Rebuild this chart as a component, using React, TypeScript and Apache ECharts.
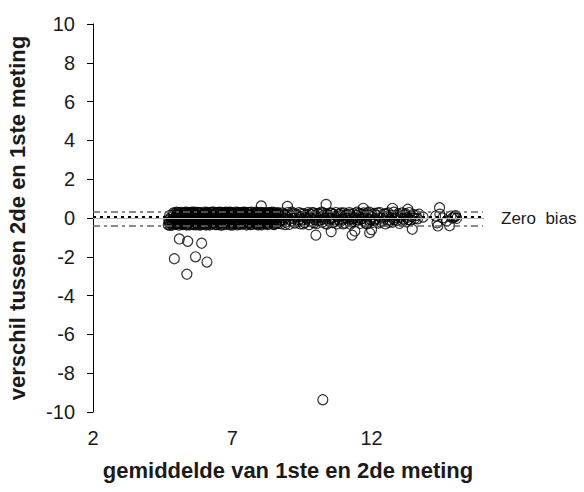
import React, { useEffect, useRef } from "react";
import * as echarts from "echarts";

const xTicks = [2, 7, 12];
const yTicks = [-10, -8, -6, -4, -2, 0, 2, 4, 6, 8, 10];

const meanBias = 0.08;
const upperLimit = 0.32;
const lowerLimit = -0.41;
const zeroBias = 0;

const bandPassA: [number, number][] = [
  [4.70,-0.35],[4.74,-0.22],[4.78,-0.30],[4.81,-0.12],[4.85,-0.36],[4.88,-0.05],[4.91,-0.25],[4.95,0.02],[4.98,-0.33],[5.01,0.18],
  [5.03,-0.15],[5.06,0.28],[5.09,-0.37],[5.12,0.10],[5.15,-0.24],[5.17,0.29],[5.20,-0.06],[5.23,-0.34],[5.26,0.22],[5.29,-0.18],
  [5.32,0.05],[5.35,0.30],[5.38,-0.29],[5.41,-0.02],[5.44,0.26],[5.47,-0.36],[5.50,0.14],[5.53,-0.12],[5.56,0.30],[5.59,-0.27],
  [5.62,0.04],[5.65,0.24],[5.68,-0.35],[5.71,-0.09],[5.74,0.29],[5.77,0.12],[5.80,-0.22],[5.83,-0.37],[5.86,0.27],[5.89,0.00],
  [5.92,-0.30],[5.95,0.19],[5.98,-0.14],[6.01,0.30],[6.04,-0.33],[6.07,0.08],[6.10,-0.20],[6.13,0.25],[6.16,-0.04],[6.19,-0.36],
  [6.22,0.28],[6.25,0.13],[6.28,-0.26],[6.31,0.02],[6.34,0.30],[6.37,-0.16],[6.40,-0.34],[6.43,0.21],[6.46,-0.07],[6.49,0.27],
  [6.52,-0.29],[6.55,0.10],[6.58,-0.37],[6.61,0.29],[6.64,-0.11],[6.67,0.17],[6.70,-0.24],[6.73,0.04],[6.76,0.30],[6.79,-0.33],
  [6.82,-0.02],[6.85,0.24],[6.88,-0.19],[6.91,0.12],[6.94,-0.36],[6.97,0.28],[7.00,-0.08],[7.03,0.20],[7.06,-0.28],[7.09,0.01],
  [7.12,0.30],[7.15,-0.14],[7.18,-0.35],[7.21,0.16],[7.24,0.26],[7.27,-0.22],[7.30,0.06],[7.33,-0.05],[7.36,0.29],[7.39,-0.31],
  [7.42,0.11],[7.45,-0.17],[7.48,0.24],[7.51,-0.36],[7.54,0.03],[7.57,0.28],[7.60,-0.25],[7.63,0.14],[7.66,-0.09],[7.69,0.30],
  [7.72,-0.33],[7.75,0.07],[7.78,-0.18],[7.81,0.22],[7.84,-0.03],[7.87,-0.30],[7.90,0.27],[7.93,0.12],[7.96,-0.22],[7.99,0.02],
  [8.02,0.29],[8.05,-0.35],[8.08,-0.10],[8.11,0.19],[8.14,-0.27],[8.17,0.25],[8.20,0.05],[8.23,-0.16],[8.26,-0.34],[8.29,0.28],
  [8.32,0.09],[8.35,-0.21],[8.38,0.17],[8.41,-0.06],[8.44,0.30],[8.47,-0.31],[8.50,0.13],[8.53,-0.12],[8.56,0.23],[8.59,-0.26],
  [8.62,0.01],[8.65,0.27],[8.68,-0.19],
];

const bandPassB: [number, number][] = [
  [4.72,-0.10],[4.76,-0.38],[4.80,0.05],[4.84,-0.20],[4.87,0.15],[4.90,-0.32],[4.93,0.22],[4.97,-0.08],[5.00,0.30],[5.04,-0.28],
  [5.07,0.08],[5.10,-0.18],[5.14,0.24],[5.18,-0.31],[5.21,0.13],[5.24,0.00],[5.27,-0.26],[5.30,0.29],[5.34,-0.10],[5.37,0.18],
  [5.40,-0.33],[5.43,0.08],[5.46,-0.20],[5.49,0.27],[5.52,-0.04],[5.55,-0.30],[5.58,0.20],[5.61,-0.16],[5.64,0.30],[5.67,0.00],
  [5.70,-0.26],[5.73,0.16],[5.76,-0.32],[5.79,0.06],[5.82,0.26],[5.85,-0.12],[5.88,-0.34],[5.91,0.23],[5.94,-0.06],[5.97,0.10],
  [6.00,-0.25],[6.03,0.20],[6.06,-0.36],[6.09,0.29],[6.12,-0.10],[6.15,0.06],[6.18,-0.22],[6.21,0.18],[6.24,-0.32],[6.27,0.30],
  [6.30,-0.13],[6.33,0.10],[6.36,-0.27],[6.39,0.24],[6.42,0.00],[6.45,-0.34],[6.48,0.14],[6.51,-0.18],[6.54,0.30],[6.57,-0.04],
  [6.60,-0.24],[6.63,0.21],[6.66,-0.35],[6.69,0.08],[6.72,0.27],[6.75,-0.15],[6.78,0.15],[6.81,-0.28],[6.84,0.29],[6.87,0.03],
  [6.90,-0.32],[6.93,0.19],[6.96,-0.12],[6.99,0.25],[7.02,-0.36],[7.05,0.10],[7.08,-0.20],[7.11,0.22],[7.14,0.05],[7.17,-0.27],
  [7.20,0.29],[7.23,-0.10],[7.26,0.12],[7.29,-0.33],[7.32,0.26],[7.35,-0.02],[7.38,0.18],[7.41,-0.24],[7.44,0.30],[7.47,-0.12],
  [7.50,0.06],[7.53,-0.30],[7.56,0.20],[7.59,-0.06],[7.62,0.28],[7.65,-0.34],[7.68,0.10],[7.71,-0.16],[7.74,0.25],[7.77,0.00],
  [7.80,-0.28],[7.83,0.16],[7.86,0.30],[7.89,-0.12],[7.92,-0.35],[7.95,0.22],[7.98,0.07],[8.01,-0.20],[8.04,0.14],[8.07,-0.30],
  [8.10,0.28],[8.13,-0.04],[8.16,0.10],[8.19,-0.25],[8.22,0.26],[8.25,-0.12],[8.28,0.02],[8.31,-0.30],[8.34,0.20],[8.37,-0.08],
  [8.40,0.25],[8.43,-0.22],[8.46,0.06],[8.49,-0.34],[8.52,0.28],[8.55,-0.02],[8.58,0.15],[8.61,-0.14],[8.64,0.22],[8.67,-0.28],
];

const bandPassC: [number, number][] = [
  [4.75,0.12],[4.83,-0.28],[4.89,0.26],[4.96,-0.18],[5.02,-0.02],[5.08,0.20],[5.13,-0.30],[5.19,0.06],[5.25,-0.14],[5.31,0.24],
  [5.36,-0.36],[5.42,0.16],[5.48,-0.08],[5.54,0.24],[5.60,-0.34],[5.66,0.10],[5.72,-0.18],[5.78,0.28],[5.84,-0.04],[5.90,0.14],
  [5.96,-0.28],[6.02,0.04],[6.08,0.24],[6.14,-0.30],[6.20,-0.08],[6.26,0.20],[6.32,-0.22],[6.38,0.06],[6.44,0.28],[6.50,-0.12],
  [6.56,-0.30],[6.62,0.12],[6.68,-0.06],[6.74,0.22],[6.80,-0.20],[6.86,0.08],[6.92,0.30],[6.98,-0.26],[7.04,0.00],[7.10,-0.16],
  [7.16,0.26],[7.22,-0.30],[7.28,0.16],[7.34,-0.18],[7.40,0.02],[7.46,0.28],[7.52,-0.22],[7.58,0.12],[7.64,-0.02],[7.70,-0.26],
  [7.76,0.20],[7.82,-0.10],[7.88,0.06],[7.94,-0.30],[8.00,0.24],[8.06,0.02],[8.12,-0.18],[8.18,0.16],[8.24,-0.28],[8.30,0.10],
  [8.36,0.28],[8.42,-0.14],[8.48,0.20],[8.54,-0.30],[8.60,0.08],[8.66,0.18],
];

const sparseBand: [number, number][] = [
  [8.72,0.10],[8.76,-0.30],[8.80,0.26],[8.84,-0.08],[8.88,0.18],[8.92,-0.22],[8.96,0.04],[9.00,0.28],[9.04,-0.33],[9.08,0.12],
  [9.12,-0.14],[9.16,0.24],[9.20,-0.02],[9.24,-0.26],[9.28,0.20],[9.32,0.06],[9.36,-0.18],[9.40,0.28],[9.44,-0.30],[9.48,0.08],
  [9.52,-0.10],[9.56,0.22],[9.60,-0.24],[9.64,0.14],[9.68,-0.04],[9.72,0.28],[9.76,-0.34],[9.80,0.02],[9.84,0.18],[9.88,-0.20],
  [9.92,0.26],[9.96,-0.08],[10.00,0.10],[10.04,-0.28],[10.08,0.24],[10.12,-0.14],[10.16,0.04],[10.20,0.30],[10.24,-0.22],[10.28,0.14],
  [10.32,-0.02],[10.36,0.22],[10.40,-0.32],[10.44,0.08],[10.48,-0.16],[10.52,0.26],[10.56,0.00],[10.60,-0.24],[10.64,0.18],[10.68,-0.10],
  [10.72,0.28],[10.76,-0.30],[10.80,0.06],[10.84,0.20],[10.88,-0.18],[10.92,0.12],[10.96,-0.06],[11.00,0.26],[11.04,-0.26],[11.08,0.02],
  [11.12,0.16],[11.16,-0.14],[11.20,0.28],[11.24,-0.32],[11.28,0.08],[11.32,-0.04],[11.36,0.22],[11.40,-0.20],[11.44,0.12],[11.48,0.30],
  [11.52,-0.10],[11.56,0.04],[11.60,-0.28],[11.64,0.20],[11.68,-0.02],[11.72,0.26],[11.76,-0.18],[11.80,0.10],[11.84,-0.30],[11.88,0.16],
  [11.92,0.30],[11.96,-0.08],[12.00,0.06],[12.05,-0.22],[12.10,0.24],[12.15,-0.04],[12.20,0.12],[12.25,-0.26],[12.30,0.28],[12.35,0.00],
  [12.40,-0.16],[12.45,0.20],[12.50,-0.30],[12.55,0.08],[12.60,0.26],[12.65,-0.10],[12.70,0.14],[12.75,-0.22],[12.80,0.30],[12.85,0.02],
  [12.90,-0.14],[12.95,0.22],[13.00,-0.28],[13.05,0.10],[13.10,0.26],[13.15,-0.06],[13.20,0.16],[13.25,-0.20],[13.30,0.04],[13.35,0.28],
  [13.40,-0.12],[13.50,0.18],[13.55,-0.02],[13.60,0.12],[13.70,0.20],[13.85,0.05],
  [14.30,0.10],[14.35,-0.25],[14.45,0.20],[14.55,0.00],[14.70,-0.15],[14.85,0.10],[14.90,0.00],[14.95,0.05],[15.00,0.08],[15.05,-0.02],[15.02,0.12],
];

const sparseBandB: [number, number][] = [
  [8.74,-0.12],[8.82,0.02],[8.90,-0.34],[8.98,0.16],[9.06,-0.06],[9.14,0.30],[9.22,-0.20],[9.30,0.12],[9.38,-0.08],[9.46,0.22],
  [9.54,-0.30],[9.62,0.04],[9.70,0.18],[9.78,-0.16],[9.86,0.28],[9.94,-0.26],[10.02,0.02],[10.10,0.20],[10.18,-0.12],[10.26,0.26],
  [10.34,-0.28],[10.42,0.16],[10.50,-0.04],[10.58,0.24],[10.66,-0.20],[10.74,0.10],[10.82,-0.10],[10.90,0.26],[10.98,-0.30],[11.06,0.14],
  [11.14,-0.02],[11.22,0.20],[11.30,-0.22],[11.38,0.02],[11.46,-0.12],[11.54,0.24],[11.62,-0.06],[11.70,0.14],[11.78,-0.26],[11.86,0.26],
  [11.94,-0.16],[12.02,0.18],[12.12,-0.12],[12.22,0.26],[12.32,-0.20],[12.42,0.06],[12.52,0.22],[12.62,-0.22],[12.72,0.04],[12.82,-0.08],
  [12.92,0.14],[13.02,0.02],[13.12,-0.18],[13.22,0.22],[13.32,-0.08],[13.45,0.08],[13.65,-0.04],
];

const outliers: [number, number][] = [
  [5.10,-1.08],[5.40,-1.20],[5.90,-1.30],[4.92,-2.10],[5.68,-2.00],[6.09,-2.27],[5.37,-2.90],[10.25,-9.37],
  [10.00,-0.88],[10.55,-0.70],[11.30,-0.88],[11.40,-0.67],[11.93,-0.76],[12.00,-0.60],[13.46,-0.58],[14.38,-0.41],[14.80,-0.40],
  [10.37,0.70],[14.44,0.53],[8.04,0.62],[8.98,0.60],[11.70,0.50],[12.75,0.50],[13.30,0.45],
];

const allPoints = [...bandPassA, ...bandPassB, ...bandPassC, ...sparseBand, ...sparseBandB, ...outliers];

const FONT = "Liberation Sans, Arial, sans-serif";

export default function App() {
  const ref = useRef<HTMLDivElement>(null);
  useEffect(() => {
    if (!ref.current) return;
    const chart = echarts.init(ref.current, undefined, { renderer: "svg" });
    chart.setOption({
      animation: false,
      backgroundColor: "#fff",
      grid: {
        left: 93,
        right: 101,
        top: 24,
        bottom: 80,
        containLabel: false,
        outerBoundsMode: "none",
      },
      xAxis: {
        type: "value",
        min: 2,
        max: 16,
        interval: 5,
        name: "gemiddelde van 1ste en 2de meting",
        nameLocation: "middle",
        nameGap: 47,
        nameTextStyle: { fontFamily: FONT, fontSize: 22, fontWeight: "bold", color: "#1a1a1a" },
        axisLine: { show: true, lineStyle: { color: "#000", width: 1 } },
        axisTick: { show: true, inside: false, length: 6, lineStyle: { color: "#000" } },
        axisLabel: {
          showMaxLabel: false,
          margin: 16,
          fontFamily: FONT,
          fontSize: 20,
          color: "#1a1a1a",
          formatter: (v: number) => (xTicks.includes(v) ? String(v) : ""),
        },
        splitLine: { show: false },
      },
      yAxis: {
        type: "value",
        min: -10,
        max: 10,
        interval: 2,
        name: "verschil tussen 2de en 1ste meting",
        nameLocation: "middle",
        nameGap: 65,
        nameTextStyle: { fontFamily: FONT, fontSize: 22, fontWeight: "bold", color: "#1a1a1a" },
        axisLine: { show: true, lineStyle: { color: "#000", width: 1 } },
        axisTick: { show: true, inside: false, length: 6, lineStyle: { color: "#000" } },
        axisLabel: {
          margin: 18,
          fontFamily: FONT,
          fontSize: 20,
          color: "#1a1a1a",
          formatter: (v: number) => (yTicks.includes(v) ? String(v) : ""),
        },
        splitLine: { show: false },
      },
      series: [
        {
          type: "scatter",
          data: allPoints,
          symbol: "circle",
          symbolSize: 10,
          itemStyle: { color: "rgba(0,0,0,0)", borderColor: "#000", borderWidth: 1.2 },
          z: 2,
        },
        {
          type: "line",
          data: [],
          z: 3,
          markLine: {
            silent: true,
            symbol: ["none", "none"],
            animation: false,
            data: [
              {
                yAxis: zeroBias,
                lineStyle: { color: "#bbbbbb", width: 1, type: "solid" },
                label: {
                  show: true,
                  position: "end",
                  distance: 18,
                  formatter: "Zero  bias",
                  fontFamily: FONT,
                  fontSize: 17,
                  color: "#1a1a1a",
                },
              },
              {
                yAxis: meanBias,
                lineStyle: { color: "#000", width: 2, type: [3, 4] },
                label: { show: false },
              },
              {
                yAxis: upperLimit,
                lineStyle: { color: "#666", width: 1.5, type: [7, 4, 3, 4] },
                label: { show: false },
              },
              {
                yAxis: lowerLimit,
                lineStyle: { color: "#666", width: 1.5, type: [7, 4, 3, 4] },
                label: { show: false },
              },
            ],
          },
        },
      ],
    });
    return () => chart.dispose();
  }, []);
  return (
    <div
      ref={ref}
      style={{ position: "absolute", left: 0, top: 0, width: 584, height: 492 }}
    />
  );
}
